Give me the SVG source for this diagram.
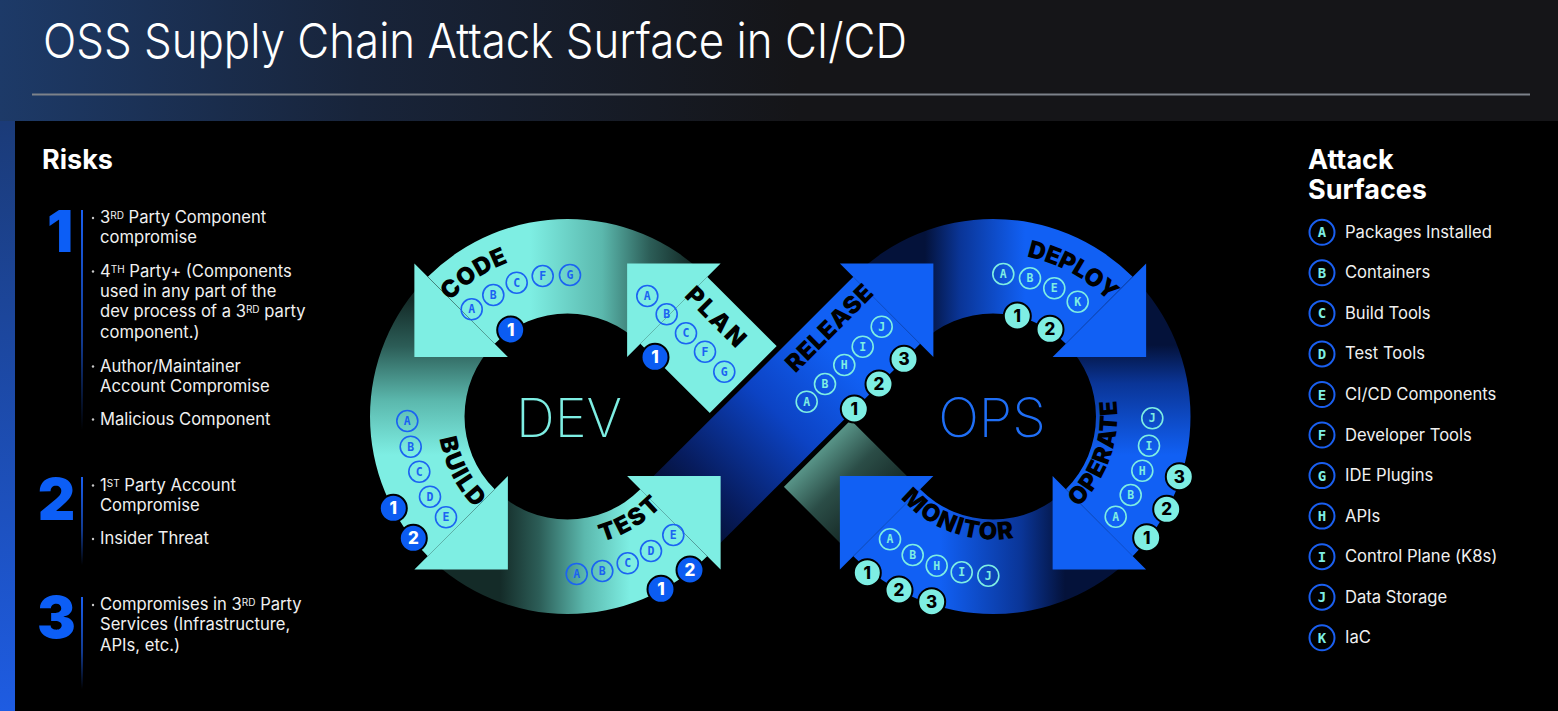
<svg xmlns="http://www.w3.org/2000/svg" width="1558" height="711" viewBox="0 0 1558 711">
<defs>
<style>
.title{font-family:Inter,"Liberation Sans",sans-serif;font-size:48.5px;font-weight:300;fill:#fff}
.head{font-family:Inter,"Liberation Sans",sans-serif;font-size:27px;font-weight:700;fill:#fff}
.risk{font-family:Inter,"Liberation Sans",sans-serif;font-size:16.6px;fill:#f0f0f0}
.sup{font-size:10px}
.num{font-family:Inter,"Liberation Sans",sans-serif;font-size:58px;font-weight:900;fill:#0c5ef6;text-anchor:middle}
.item{font-family:Inter,"Liberation Sans",sans-serif;font-size:16.6px;fill:#f0f0f0}
.stage{font-family:Inter,"Liberation Sans",sans-serif;font-size:24px;font-weight:900;fill:#000;text-anchor:middle}
.big{font-family:Inter,"Liberation Sans",sans-serif;font-size:54px;font-weight:200;text-anchor:middle}
.mono{font-family:"DejaVu Sans Mono","Liberation Mono",monospace;font-weight:bold;text-anchor:middle}
.cd{fill:none;stroke:#1b63f2;stroke-width:1.6}
.td{fill:#1b63f2;font-size:11.5px}
.co{fill:none;stroke:#7eeee3;stroke-width:1.6}
.to{fill:#7eeee3;font-size:11.5px}
.key{fill:none;stroke:#1a5ff0;stroke-width:2}
.keyt{fill:#7eeee3;font-size:14px}
.bd{fill:#0b5cf2;stroke:#000;stroke-width:2}
.bo{fill:#7eeee3;stroke:#000;stroke-width:2}
.badge{font-family:Inter,"Liberation Sans",sans-serif;font-size:17px;font-weight:800;text-anchor:middle}
.teal{fill:#7eeee3}
.blue{fill:#1160f4}
.dot{fill:#c8c8c8}
</style>
<linearGradient id="hdr" gradientUnits="userSpaceOnUse" x1="0" y1="0" x2="800" y2="0">
<stop offset="0" stop-color="#1d3a68"/><stop offset="0.45" stop-color="#18243a"/><stop offset="1" stop-color="#151518"/>
</linearGradient>
<linearGradient id="strip" gradientUnits="userSpaceOnUse" x1="0" y1="121" x2="0" y2="711">
<stop offset="0" stop-color="#1b3b78"/><stop offset="1" stop-color="#1e5ce2"/>
</linearGradient>
<linearGradient id="vl1" x1="0" y1="0" x2="0" y2="1"><stop offset="0" stop-color="#1a5ff0"/><stop offset="0.6" stop-color="#123a90"/><stop offset="1" stop-color="#000"/></linearGradient>
<!-- shading of each loop segment: dark where it leaves the previous arrowhead -->
<linearGradient id="gCode" gradientUnits="userSpaceOnUse" x1="690" y1="0" x2="530" y2="0">
<stop offset="0" stop-color="#142b28"/><stop offset="0.25" stop-color="#2c5d57"/><stop offset="0.55" stop-color="#5bb8ad"/><stop offset="1" stop-color="#7eeee3"/>
</linearGradient>
<linearGradient id="gBuild" gradientUnits="userSpaceOnUse" x1="0" y1="300" x2="0" y2="455">
<stop offset="0" stop-color="#142b28"/><stop offset="0.3" stop-color="#2c5d57"/><stop offset="0.65" stop-color="#5bb8ad"/><stop offset="1" stop-color="#7eeee3"/>
</linearGradient>
<linearGradient id="gTest" gradientUnits="userSpaceOnUse" x1="500" y1="0" x2="630" y2="0">
<stop offset="0" stop-color="#142b28"/><stop offset="0.3" stop-color="#2c5d57"/><stop offset="0.65" stop-color="#5bb8ad"/><stop offset="1" stop-color="#7eeee3"/>
</linearGradient>
<linearGradient id="gPlan" gradientUnits="userSpaceOnUse" x1="886.6" y1="522.9" x2="673.9" y2="310.1">
<stop offset="0" stop-color="#0e1c1a"/><stop offset="0.2" stop-color="#2b4d47"/><stop offset="0.34" stop-color="#5d9c8f"/><stop offset="0.52" stop-color="#74dcd0"/><stop offset="0.62" stop-color="#7eeee3"/><stop offset="1" stop-color="#7eeee3"/>
</linearGradient>
<linearGradient id="gRelease" gradientUnits="userSpaceOnUse" x1="673.9" y1="522.9" x2="886.6" y2="310.1">
<stop offset="0" stop-color="#040d28"/><stop offset="0.18" stop-color="#071c5e"/><stop offset="0.5" stop-color="#0c43c4"/><stop offset="0.78" stop-color="#1160f4"/><stop offset="1" stop-color="#1160f4"/>
</linearGradient>
<linearGradient id="gDeploy" gradientUnits="userSpaceOnUse" x1="925" y1="0" x2="1025" y2="0">
<stop offset="0" stop-color="#04123a"/><stop offset="0.35" stop-color="#0a3597"/><stop offset="1" stop-color="#1160f4"/>
</linearGradient>
<linearGradient id="gOperate" gradientUnits="userSpaceOnUse" x1="0" y1="345" x2="0" y2="455">
<stop offset="0" stop-color="#04123a"/><stop offset="0.35" stop-color="#0a3597"/><stop offset="1" stop-color="#1160f4"/>
</linearGradient>
<linearGradient id="gMonitor" gradientUnits="userSpaceOnUse" x1="1065" y1="0" x2="940" y2="0">
<stop offset="0" stop-color="#04123a"/><stop offset="0.35" stop-color="#0a3597"/><stop offset="1" stop-color="#1160f4"/>
</linearGradient>
<!-- baselines for the curved stage names -->
<path id="pCode" d="M402.77,426 A165,165 0 0 1 641.64,269.09"/>
<path id="pBuild" d="M458.10,346.27 A130,130 0 0 0 561.38,546.36"/>
<path id="pTest" d="M504.28,530.09 A130,130 0 0 0 697.48,414.46"/>
<path id="pDeploy" d="M907.87,277.03 A163.4,163.4 0 0 1 1156.35,412.51"/>
<path id="pOperate" d="M1015.22,538.8 A124.3,124.3 0 0 0 1087.8,336.1"/>
<path id="pMonitor" d="M872.14,439.34 A123,123 0 0 0 1073.21,509.75"/>
</defs>

<!-- page background -->
<rect width="1558" height="711" fill="#151518"/>
<rect width="1558" height="121" fill="url(#hdr)"/>
<rect x="0" y="121" width="15" height="590" fill="url(#strip)"/>
<rect x="15" y="121" width="1543" height="590" fill="#000"/>
<text class="title" x="43" y="57.5" textLength="864" lengthAdjust="spacingAndGlyphs">OSS Supply Chain Attack Surface in CI/CD</text>
<line x1="32" y1="94.5" x2="1530" y2="94.5" stroke="#7d828a" stroke-width="2"/>

<!-- Risks column -->
<g id="risks">
<text class="head" x="42" y="169">Risks</text>
<g id="risk-1">
<text class="num" x="60" y="252">1</text>
<rect x="81" y="210" width="2" height="220" fill="url(#vl1)"/>
<circle class="dot" cx="93" cy="218" r="1.2"/><circle class="dot" cx="93" cy="271.5" r="1.2"/><circle class="dot" cx="93" cy="366.5" r="1.2"/><circle class="dot" cx="93" cy="419.5" r="1.2"/>
<text class="risk" x="100" y="223.3">3<tspan class="sup" dy="-4">RD</tspan><tspan dy="4"> Party Component</tspan></text>
<text class="risk" x="100" y="243.3">compromise</text>
<text class="risk" x="100" y="276.7">4<tspan class="sup" dy="-4">TH</tspan><tspan dy="4"> Party+ (Components</tspan></text>
<text class="risk" x="100" y="296.7">used in any part of the</text>
<text class="risk" x="100" y="317.3">dev process of a 3<tspan class="sup" dy="-4">RD</tspan><tspan dy="4"> party</tspan></text>
<text class="risk" x="100" y="338.3">component.)</text>
<text class="risk" x="100" y="371.7">Author/Maintainer</text>
<text class="risk" x="100" y="391.7">Account Compromise</text>
<text class="risk" x="100" y="424.5">Malicious Component</text>
</g>
<g id="risk-2">
<text class="num" x="56.5" y="520">2</text>
<rect x="81" y="477" width="2" height="88" fill="url(#vl1)"/>
<circle class="dot" cx="93" cy="485.5" r="1.2"/><circle class="dot" cx="93" cy="539" r="1.2"/>
<text class="risk" x="100" y="490.7">1<tspan class="sup" dy="-4">ST</tspan><tspan dy="4"> Party Account</tspan></text>
<text class="risk" x="100" y="510.7">Compromise</text>
<text class="risk" x="100" y="544">Insider Threat</text>
</g>
<g id="risk-3">
<text class="num" x="56.5" y="638">3</text>
<rect x="81" y="597" width="2" height="92" fill="url(#vl1)"/>
<circle class="dot" cx="93" cy="605" r="1.2"/>
<text class="risk" x="100" y="610">Compromises in 3<tspan class="sup" dy="-4">RD</tspan><tspan dy="4"> Party</tspan></text>
<text class="risk" x="100" y="630">Services (Infrastructure,</text>
<text class="risk" x="100" y="650.7">APIs,  etc.)</text>
</g>
</g>

<!-- Attack surfaces key -->
<g id="attack-surfaces">
<text class="head" x="1308" y="169">Attack</text>
<text class="head" x="1308" y="198.5">Surfaces</text>
<g transform="translate(1322,232.3)"><circle class="key" r="12.5"/><text class="mono keyt" y="5">A</text><text class="item" x="23" y="5.5">Packages Installed</text></g>
<g transform="translate(1322,272.8)"><circle class="key" r="12.5"/><text class="mono keyt" y="5">B</text><text class="item" x="23" y="5.5">Containers</text></g>
<g transform="translate(1322,313.4)"><circle class="key" r="12.5"/><text class="mono keyt" y="5">C</text><text class="item" x="23" y="5.5">Build Tools</text></g>
<g transform="translate(1322,353.9)"><circle class="key" r="12.5"/><text class="mono keyt" y="5">D</text><text class="item" x="23" y="5.5">Test Tools</text></g>
<g transform="translate(1322,394.5)"><circle class="key" r="12.5"/><text class="mono keyt" y="5">E</text><text class="item" x="23" y="5.5">CI/CD Components</text></g>
<g transform="translate(1322,435)"><circle class="key" r="12.5"/><text class="mono keyt" y="5">F</text><text class="item" x="23" y="5.5">Developer Tools</text></g>
<g transform="translate(1322,475.6)"><circle class="key" r="12.5"/><text class="mono keyt" y="5">G</text><text class="item" x="23" y="5.5">IDE Plugins</text></g>
<g transform="translate(1322,516.1)"><circle class="key" r="12.5"/><text class="mono keyt" y="5">H</text><text class="item" x="23" y="5.5">APIs</text></g>
<g transform="translate(1322,556.7)"><circle class="key" r="12.5"/><text class="mono keyt" y="5">I</text><text class="item" x="23" y="5.5">Control Plane (K8s)</text></g>
<g transform="translate(1322,597.2)"><circle class="key" r="12.5"/><text class="mono keyt" y="5">J</text><text class="item" x="23" y="5.5">Data Storage</text></g>
<g transform="translate(1322,637.8)"><circle class="key" r="12.5"/><text class="mono keyt" y="5">K</text><text class="item" x="23" y="5.5">IaC</text></g>
</g>

<!-- infinity loop bodies: two crossing bands and six ring quarters -->
<g id="loop-connectors">
<path d="M853.35,556.15 L920.17,489.33 L707.15,276.85 L640.33,343.67 Z" fill="url(#gPlan)"/>
<rect x="-80" y="-52.3" width="160" height="104.6" fill="#000" transform="translate(780.25,416.5) rotate(-45)"/>
<path d="M640.33,489.33 L707.15,556.15 L920.17,343.67 L853.35,276.85 Z" fill="url(#gRelease)"/>
<path d="M707.15,276.85 A197.5,197.5 0 0 0 427.85,276.85 L494.67,343.67 A103,103 0 0 1 640.33,343.67 Z" fill="url(#gCode)"/>
<path d="M427.85,276.85 A197.5,197.5 0 0 0 427.85,556.15 L494.67,489.33 A103,103 0 0 1 494.67,343.67 Z" fill="url(#gBuild)"/>
<path d="M427.85,556.15 A197.5,197.5 0 0 0 707.15,556.15 L640.33,489.33 A103,103 0 0 1 494.67,489.33 Z" fill="url(#gTest)"/>
<path d="M853.35,276.85 A197.5,197.5 0 0 1 1132.65,276.85 L1065.83,343.67 A103,103 0 0 0 920.17,343.67 Z" fill="url(#gDeploy)"/>
<path d="M1132.65,276.85 A197.5,197.5 0 0 1 1132.65,556.15 L1065.83,489.33 A103,103 0 0 0 1065.83,343.67 Z" fill="url(#gOperate)"/>
<path d="M1132.65,556.15 A197.5,197.5 0 0 1 853.35,556.15 L920.17,489.33 A103,103 0 0 0 1065.83,489.33 Z" fill="url(#gMonitor)"/>
</g>

<text class="big" x="569" y="436.7" fill="#7eeee3">DEV</text>
<text class="big" x="992" y="436.7" fill="#1f6ef5">OPS</text>

<!-- DEV stages -->
<g id="stage-plan">
<polygon class="teal" points="627.1,263.4 720.6,263.4 627.1,356.9"/>
<text class="stage" transform="translate(715.8,316.7) rotate(45)" y="8.5" textLength="74" lengthAdjust="spacing">PLAN</text>
<g transform="translate(647.3,296)"><circle class="cd" r="10.5"/><text class="mono td" y="4">A</text></g>
<g transform="translate(666.7,314.3)"><circle class="cd" r="10.5"/><text class="mono td" y="4">B</text></g>
<g transform="translate(686,333.3)"><circle class="cd" r="10.5"/><text class="mono td" y="4">C</text></g>
<g transform="translate(705,351.7)"><circle class="cd" r="10.5"/><text class="mono td" y="4">F</text></g>
<g transform="translate(724.3,371.7)"><circle class="cd" r="10.5"/><text class="mono td" y="4">G</text></g>
<g transform="translate(655,357.3)"><circle class="bd" r="13.5"/><text class="badge" y="6" fill="#fff">1</text></g>
</g>

<g id="stage-code">
<polygon class="teal" points="414.4,263.4 507.9,356.9 414.4,356.9"/>
<text class="stage"><textPath href="#pCode" startOffset="50%" textLength="71" lengthAdjust="spacing">CODE</textPath></text>
<g transform="translate(471.7,309.3)"><circle class="cd" r="10.5"/><text class="mono td" y="4">A</text></g>
<g transform="translate(493.3,295)"><circle class="cd" r="10.5"/><text class="mono td" y="4">B</text></g>
<g transform="translate(516.7,282.7)"><circle class="cd" r="10.5"/><text class="mono td" y="4">C</text></g>
<g transform="translate(542.7,276)"><circle class="cd" r="10.5"/><text class="mono td" y="4">F</text></g>
<g transform="translate(570,275)"><circle class="cd" r="10.5"/><text class="mono td" y="4">G</text></g>
<g transform="translate(510.7,330)"><circle class="bd" r="13.5"/><text class="badge" y="6" fill="#fff">1</text></g>
</g>

<g id="stage-build">
<polygon class="teal" points="507.9,476.1 414.4,569.6 507.9,569.6"/>
<text class="stage"><textPath href="#pBuild" startOffset="50%" textLength="79" lengthAdjust="spacing">BUILD</textPath></text>
<g transform="translate(407.3,421)"><circle class="cd" r="10.5"/><text class="mono td" y="4">A</text></g>
<g transform="translate(410.7,446.7)"><circle class="cd" r="10.5"/><text class="mono td" y="4">B</text></g>
<g transform="translate(419.3,471.7)"><circle class="cd" r="10.5"/><text class="mono td" y="4">C</text></g>
<g transform="translate(430,496.7)"><circle class="cd" r="10.5"/><text class="mono td" y="4">D</text></g>
<g transform="translate(446,517.3)"><circle class="cd" r="10.5"/><text class="mono td" y="4">E</text></g>
<g transform="translate(393.3,508.3)"><circle class="bd" r="13.5"/><text class="badge" y="6" fill="#fff">1</text></g>
<g transform="translate(413.3,538.3)"><circle class="bd" r="13.5"/><text class="badge" y="6" fill="#fff">2</text></g>
</g>

<g id="stage-test">
<polygon class="teal" points="627.1,476.1 720.6,476.1 720.6,569.6"/>
<text class="stage"><textPath href="#pTest" startOffset="50%" textLength="70" lengthAdjust="spacing">TEST</textPath></text>
<g transform="translate(576.7,574)"><circle class="cd" r="10.5"/><text class="mono td" y="4">A</text></g>
<g transform="translate(602.3,571)"><circle class="cd" r="10.5"/><text class="mono td" y="4">B</text></g>
<g transform="translate(627.7,563.3)"><circle class="cd" r="10.5"/><text class="mono td" y="4">C</text></g>
<g transform="translate(651,551)"><circle class="cd" r="10.5"/><text class="mono td" y="4">D</text></g>
<g transform="translate(673.3,535)"><circle class="cd" r="10.5"/><text class="mono td" y="4">E</text></g>
<g transform="translate(661,589.3)"><circle class="bd" r="13.5"/><text class="badge" y="6" fill="#fff">1</text></g>
<g transform="translate(690,570)"><circle class="bd" r="13.5"/><text class="badge" y="6" fill="#fff">2</text></g>
</g>

<!-- OPS stages -->
<g id="stage-release">
<polygon class="blue" points="839.9,263.4 933.4,263.4 933.4,356.9"/>
<text class="stage" transform="translate(829,328) rotate(-45)" y="8.5" textLength="112" lengthAdjust="spacing">RELEASE</text>
<g transform="translate(806.7,401.7)"><circle class="co" r="10.5"/><text class="mono to" y="4">A</text></g>
<g transform="translate(825,384)"><circle class="co" r="10.5"/><text class="mono to" y="4">B</text></g>
<g transform="translate(844.3,365)"><circle class="co" r="10.5"/><text class="mono to" y="4">H</text></g>
<g transform="translate(862.7,346.7)"><circle class="co" r="10.5"/><text class="mono to" y="4">I</text></g>
<g transform="translate(881.7,326.7)"><circle class="co" r="10.5"/><text class="mono to" y="4">J</text></g>
<g transform="translate(854.3,409)"><circle class="bo" r="13.5"/><text class="badge" y="6" fill="#000">1</text></g>
<g transform="translate(879,384)"><circle class="bo" r="13.5"/><text class="badge" y="6" fill="#000">2</text></g>
<g transform="translate(904,359.3)"><circle class="bo" r="13.5"/><text class="badge" y="6" fill="#000">3</text></g>
</g>

<g id="stage-deploy">
<polygon class="blue" points="1146.1,263.4 1052.6,356.9 1146.1,356.9"/>
<text class="stage"><textPath href="#pDeploy" startOffset="50%" textLength="95" lengthAdjust="spacing">DEPLOY</textPath></text>
<g transform="translate(1003.3,274)"><circle class="co" r="10.5"/><text class="mono to" y="4">A</text></g>
<g transform="translate(1030,278.3)"><circle class="co" r="10.5"/><text class="mono to" y="4">B</text></g>
<g transform="translate(1054.3,288.3)"><circle class="co" r="10.5"/><text class="mono to" y="4">E</text></g>
<g transform="translate(1077.7,301.7)"><circle class="co" r="10.5"/><text class="mono to" y="4">K</text></g>
<g transform="translate(1017.3,316)"><circle class="bo" r="13.5"/><text class="badge" y="6" fill="#000">1</text></g>
<g transform="translate(1050,329.3)"><circle class="bo" r="13.5"/><text class="badge" y="6" fill="#000">2</text></g>
</g>

<g id="stage-operate">
<polygon class="blue" points="1052.6,476.1 1146.1,569.6 1052.6,569.6"/>
<text class="stage"><textPath href="#pOperate" startOffset="50%" textLength="118" lengthAdjust="spacing">OPERATE</textPath></text>
<g transform="translate(1152.3,418.3)"><circle class="co" r="10.5"/><text class="mono to" y="4">J</text></g>
<g transform="translate(1149,445.7)"><circle class="co" r="10.5"/><text class="mono to" y="4">I</text></g>
<g transform="translate(1142.3,470.7)"><circle class="co" r="10.5"/><text class="mono to" y="4">H</text></g>
<g transform="translate(1130.7,495)"><circle class="co" r="10.5"/><text class="mono to" y="4">B</text></g>
<g transform="translate(1115.7,516.7)"><circle class="co" r="10.5"/><text class="mono to" y="4">A</text></g>
<g transform="translate(1179.3,476.7)"><circle class="bo" r="13.5"/><text class="badge" y="6" fill="#000">3</text></g>
<g transform="translate(1166.7,509.3)"><circle class="bo" r="13.5"/><text class="badge" y="6" fill="#000">2</text></g>
<g transform="translate(1146.7,537.7)"><circle class="bo" r="13.5"/><text class="badge" y="6" fill="#000">1</text></g>
</g>

<g id="stage-monitor">
<polygon class="blue" points="839.9,476.1 933.4,476.1 839.9,569.6"/>
<text class="stage"><textPath href="#pMonitor" startOffset="50%" textLength="125" lengthAdjust="spacing">MONITOR</textPath></text>
<g transform="translate(890,539.3)"><circle class="co" r="10.5"/><text class="mono to" y="4">A</text></g>
<g transform="translate(912.7,555)"><circle class="co" r="10.5"/><text class="mono to" y="4">B</text></g>
<g transform="translate(936.7,565.7)"><circle class="co" r="10.5"/><text class="mono to" y="4">H</text></g>
<g transform="translate(961.7,572.3)"><circle class="co" r="10.5"/><text class="mono to" y="4">I</text></g>
<g transform="translate(988.3,575.7)"><circle class="co" r="10.5"/><text class="mono to" y="4">J</text></g>
<g transform="translate(867.3,572.7)"><circle class="bo" r="13.5"/><text class="badge" y="6" fill="#000">1</text></g>
<g transform="translate(899,590)"><circle class="bo" r="13.5"/><text class="badge" y="6" fill="#000">2</text></g>
<g transform="translate(931.7,601.7)"><circle class="bo" r="13.5"/><text class="badge" y="6" fill="#000">3</text></g>
</g>
</svg>
